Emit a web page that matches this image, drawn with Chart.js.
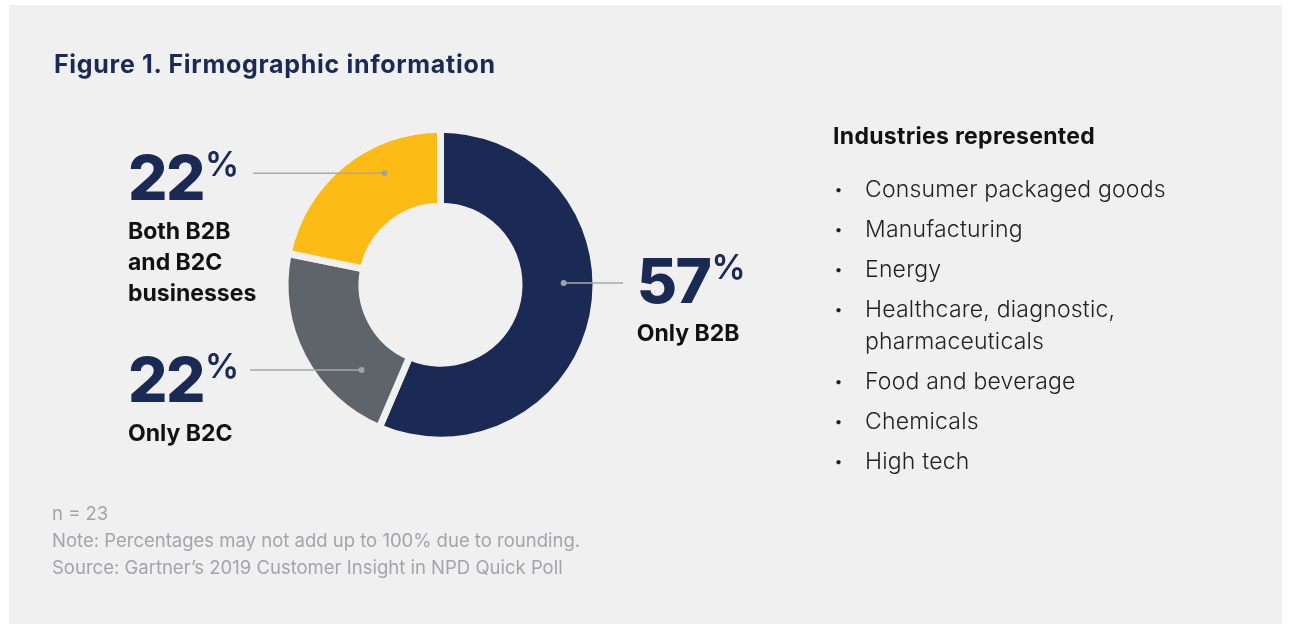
<!DOCTYPE html>
<html>
<head>
<meta charset="utf-8">
<script src="https://cdn.jsdelivr.net/npm/chart.js@4.4.1/dist/chart.umd.min.js"></script>
<style>
  html, body { margin: 0; padding: 0; background: #fff; }
  body { width: 1291px; height: 624px; position: relative; overflow: hidden; font-family: Inter, "Noto Sans", sans-serif; }
  #panel { position: absolute; left: 9px; top: 5px; width: 1273px; height: 640px; background: #f0f0f0; }
  #wrap { position: absolute; left: 0; top: 0; width: 1291px; height: 624px; }
  .txt { position: absolute; white-space: nowrap; }
  #title { left: 54px; top: 48.9px; font-size: 25px; line-height: 30px; font-weight: 700; color: #1b2a54; letter-spacing: 0.7px; }
  .big { font-size: 62px; line-height: 62px; font-weight: 800; color: #1b2a54; letter-spacing: -1.5px; }
  .big .pct { font-size: 34px; font-weight: 600; position: relative; top: -24px; margin-left: 1px; letter-spacing: 0; }
  .lab { font-size: 23px; line-height: 31px; font-weight: 700; color: #111; }
  #indTitle { left: 833px; top: 121px; font-size: 23px; line-height: 31px; font-weight: 700; color: #111; letter-spacing: 0.3px; }
  #industries { position: absolute; left: 833px; top: 172.9px; margin: 0; padding: 0; list-style: none; }
  #industries li { position: relative; padding-left: 32px; font-size: 23px; line-height: 32px; font-weight: 300; color: #222; margin-bottom: 8px; letter-spacing: 0.2px; }
  #industries li::before { content: "\2022"; position: absolute; left: 1px; top: 0; font-size: 16px; }
  #notes { left: 52px; top: 499.8px; font-size: 18.5px; line-height: 27px; font-weight: 400; color: #a4a4a9; }
</style>
</head>
<body>
<div id="panel"></div>
<div id="wrap"><canvas id="donut" width="1291" height="624"></canvas></div>
<div class="txt" id="title">Figure 1. Firmographic information</div>
<div class="txt" id="indTitle">Industries represented</div>
<ul id="industries"></ul>
<div class="txt" id="notes"></div>
<script>
// dati
const segmenti = ['Only B2B', 'Only B2C', 'Both B2B and B2C businesses'];
const percentuali = [57, 22, 22];
const colori = ['#1b2a54', '#5f646b', '#fdbb16'];
const righeEtichetta = [['Only B2B'], ['Only B2C'], ['Both B2B', 'and B2C', 'businesses']];
const settori = ['Consumer packaged goods', 'Manufacturing', 'Energy', 'Healthcare, diagnostic,<br>pharmaceuticals', 'Food and beverage', 'Chemicals', 'High tech'];
const note = ['n = 23', 'Note: Percentages may not add up to 100% due to rounding.', 'Source: Gartner\u2019s 2019 Customer Insight in NPD Quick Poll'];

// posizione dei richiami (linea orizzontale + etichetta)
// quota = posizione del pallino nello spessore dell'anello (0 interno, 1 esterno)
const richiami = [
    { lineaY: 283, lato: 'right', bordoX: 623, quota: 0.58, numX: 636.7, numTop: 249.8, labTop: 317.8 },
    { lineaY: 370, lato: 'left', bordoX: 250, quota: 0.49, numX: 128, numTop: 349.2, labTop: 417.8 },
    { lineaY: 173.3, lato: 'left', bordoX: 253, quota: 0.6, numX: 128, numTop: 146.5, labTop: 216.1 }
];

// lista settori
settori.forEach(s => {
    const li = document.createElement('li');
    li.innerHTML = s;
    document.getElementById('industries').append(li);
});
document.getElementById('notes').innerHTML = note.join('<br>');

// etichette percentuali
richiami.forEach((r, i) => {
    const num = document.createElement('div');
    num.className = 'txt big';
    num.style.left = r.numX + 'px';
    num.style.top = r.numTop + 'px';
    num.innerHTML = percentuali[i] + '<span class="pct">%</span>';
    document.body.append(num);
    const lab = document.createElement('div');
    lab.className = 'txt lab';
    lab.style.left = r.numX + 'px';
    lab.style.top = r.labTop + 'px';
    lab.innerHTML = righeEtichetta[i].join('<br>');
    document.body.append(lab);
});

// linee di richiamo con il pallino sull'anello
const pluginRichiami = {
    id: 'richiami',
    afterDatasetsDraw(chart) {
        const c = chart.ctx;
        chart.getDatasetMeta(0).data.forEach((arc, i) => {
            const r = richiami[i];
            if (!r) return;
            const p = arc.getProps(['x', 'y', 'innerRadius', 'outerRadius']);
            const rad = p.innerRadius + (p.outerRadius - p.innerRadius) * r.quota;
            const dy = r.lineaY - p.y;
            const dx = Math.sqrt(Math.max(rad * rad - dy * dy, 0)) * (r.lato === 'left' ? -1 : 1);
            const px = p.x + dx;
            c.save();
            c.strokeStyle = '#a7a9ad';
            c.lineWidth = 1.5;
            c.beginPath();
            c.moveTo(px, r.lineaY);
            c.lineTo(r.bordoX, r.lineaY);
            c.stroke();
            c.fillStyle = '#9fa2a6';
            c.beginPath();
            c.arc(px, r.lineaY, 3, 0, Math.PI * 2);
            c.fill();
            c.restore();
        });
    }
};

const ctx = document.getElementById('donut').getContext('2d');
const chartDonut = new Chart(ctx, {
    type: 'doughnut',
    data: {
        labels: segmenti,
        datasets: [{
            data: percentuali,
            backgroundColor: colori,
            borderColor: '#f0f0f0',
            borderWidth: 7,
            hoverOffset: 0
        }]
    },
    options: {
        responsive: false,
        animation: false,
        devicePixelRatio: 1,
        cutout: '50.5%',
        layout: { padding: { left: 281.5, top: 125.7, right: 691.5, bottom: 180.3 } },
        plugins: {
            legend: { display: false },
            tooltip: { enabled: false }
        }
    },
    plugins: [pluginRichiami]
});
</script>
</body>
</html>
